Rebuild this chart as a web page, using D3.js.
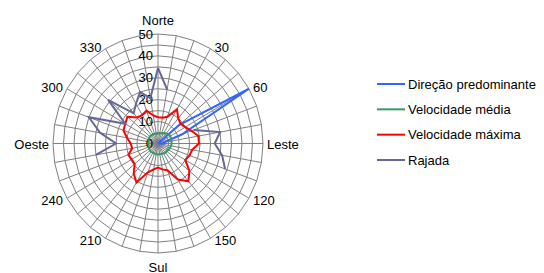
<!DOCTYPE html>
<html>
<head>
<meta charset="utf-8">
<script src="https://cdn.jsdelivr.net/npm/d3@7"></script>
<style>
  html, body { margin: 0; padding: 0; background: #fff; }
  svg { display: block; font-family: "Liberation Sans", Arial, sans-serif; }
</style>
</head>
<body>
<svg id="chart" width="544" height="273"></svg>
<script>
// ---- data ----
const directions = [0,10,20,30,40,50,60,70,80,90,100,110,120,130,140,150,160,170,180,190,200,210,220,230,240,250,260,270,280,290,300,310,320,330,340,350];
const categoryLabels = ["Norte","","","30","","","60","","","Leste","","","120","","","150","","","Sul","","","210","","","240","","","Oeste","","","300","","","330","",""];
const radialTicks = [0,10,20,30,40,50];
const seriesNames = ["Direção predominante","Velocidade média","Velocidade máxima","Rajada"];
const direcaoPredominante = [0,0,0,0,0,13,50,12,3,3,0,0,0,0,0,0,0,0,0,0,0,0,0,0,0,0,0,0,0,0,0,0,0,0,0,0];
const velocidadeMedia = [4.5,4.8,5,5.5,6,6.5,6.8,6.5,6.5,6.5,6.3,6,5.8,5.5,5.5,5.3,5,5,5,5,4.8,4.8,5,5,4.8,4.8,4.5,4.6,4.5,4.8,5,5,4.8,4.8,4.6,4.5];
const velocidadeMaxima = [12,12,13,18,15,14,15,17,19.5,19.5,16.5,16,15,19.5,22.5,19,13,12,11,12,14,20.5,18,14.5,14.5,15,12.5,13,15,17.5,18,19,15.5,15,16,13];
const rajada = [34.5,25,null,null,null,null,null,18,30,27,31,34,null,null,null,null,null,null,null,null,null,null,null,null,null,null,30,20,28,35,18,31,18,21,25,21];
const seriesColors = ["#3366ff","#339966","#ff0000","#666699"];

// ---- layout ----
const svg = d3.select("#chart");
const cx = 158, cy = 143.5, rx = 105, ry = 109.5;
const maxV = 50;
const angle = d3.scaleLinear().domain([0, 360]).range([0, 2 * Math.PI]);
const rX = d3.scaleLinear().domain([0, maxV]).range([0, rx]);
const rY = d3.scaleLinear().domain([0, maxV]).range([0, ry]);
const px = (deg, v) => cx + rX(v) * Math.sin(angle(deg));
const py = (deg, v) => cy - rY(v) * Math.cos(angle(deg));

const grid = svg.append("g").attr("stroke", "#808080").attr("stroke-width", 1).attr("fill", "none");
// rings every 5
const ringVals = d3.range(5, maxV + 0.1, 5);
grid.selectAll("path.ring").data(ringVals).join("path")
  .attr("class", "ring")
  .attr("d", v => d3.line()(directions.map(d => [px(d, v), py(d, v)])) + "Z");
// spokes
grid.selectAll("line.spoke").data(directions).join("line")
  .attr("class", "spoke")
  .attr("x1", cx).attr("y1", cy)
  .attr("x2", d => px(d, maxV)).attr("y2", d => py(d, maxV));

// radial tick labels
svg.append("g").selectAll("text").data(radialTicks).join("text")
  .attr("x", cx - 5)
  .attr("y", v => cy - rY(v))
  .attr("text-anchor", "end")
  .attr("dominant-baseline", "central")
  .attr("font-size", 13)
  .attr("fill", "#000")
  .text(v => v);

// category labels
const labG = svg.append("g").attr("font-size", 13).attr("fill", "#000");
directions.forEach((d, i) => {
  const t = categoryLabels[i];
  if (!t) return;
  let x = px(d, maxV), y = py(d, maxV), anchor = "middle";
  if (d === 0) { y -= 14; }
  else if (d === 180) { y += 14; }
  else if (d < 180) { x += 4; anchor = "start"; y += (d < 90 ? -1.5 : (d === 90 ? 1 : 2)); }
  else { x -= 4; anchor = "end"; y += (d > 270 ? -1.5 : (d === 270 ? 1 : 2)); }
  labG.append("text").attr("x", x).attr("y", y)
    .attr("text-anchor", anchor).attr("dominant-baseline", "central").text(t);
});

// series
const allSeries = [direcaoPredominante, velocidadeMedia, velocidadeMaxima, rajada];
const line = d3.line().defined(p => p[1] != null)
  .x(p => px(p[0], p[1])).y(p => py(p[0], p[1]));
allSeries.forEach((vals, si) => {
  const pts = directions.map((d, i) => [d, vals[i]]);
  pts.push([360, vals[0]]);
  svg.append("path")
    .attr("d", line(pts))
    .attr("fill", "none")
    .attr("stroke", seriesColors[si])
    .attr("stroke-width", 2)
    .attr("stroke-linejoin", "miter");
});

// legend
const legY = d3.scalePoint().domain(seriesNames).range([84, 160]);
const leg = svg.append("g").attr("font-size", 13);
seriesNames.forEach((n, i) => {
  leg.append("line").attr("x1", 377).attr("x2", 405)
    .attr("y1", legY(n)).attr("y2", legY(n))
    .attr("stroke", seriesColors[i]).attr("stroke-width", 2);
  leg.append("text").attr("x", 408).attr("y", legY(n))
    .attr("dominant-baseline", "central").attr("fill", "#000").text(n);
});
</script>
</body>
</html>
